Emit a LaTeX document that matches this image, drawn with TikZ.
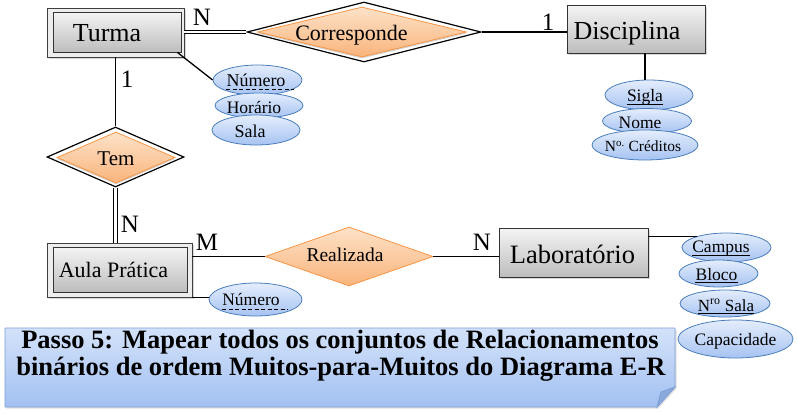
\documentclass[tikz,border=0pt]{standalone}
\usepackage{fontspec}
\setmainfont{Liberation Serif}
\usetikzlibrary{shapes.geometric,shadows,calc}
\definecolor{rTop}{HTML}{F4F4F4}
\definecolor{rBot}{HTML}{BDBDBD}
\definecolor{eTop}{HTML}{E4EDFC}
\definecolor{eBot}{HTML}{A6C3F2}
\definecolor{eBorder}{HTML}{4A7EBB}
\definecolor{dTop}{HTML}{FDE2C8}
\definecolor{dBot}{HTML}{F9B47C}
\definecolor{dBorder}{HTML}{F79646}
\definecolor{bTop}{HTML}{D3E2FA}
\definecolor{bBot}{HTML}{A2C0F1}
\definecolor{bBorder}{HTML}{7E9ED6}
\definecolor{bFold}{HTML}{8AA9DD}
\newcommand\fsz[1]{\fontsize{#1}{#1}\selectfont}
\begin{document}
\begin{tikzpicture}[x=1pt,y=-1pt,
  shad/.style={drop shadow={shadow xshift=1.5pt,shadow yshift=-1.5pt,opacity=0.3}},
  entout/.style={draw=black!75, line width=0.8pt, fill=black!7, inner sep=0, shad},
  ent/.style={draw=black!80, line width=0.8pt, top color=rTop, bottom color=rBot, inner sep=0},
  attr/.style={ellipse, draw=eBorder, line width=0.8pt, top color=eTop, bottom color=eBot, inner sep=0},
  relout/.style={diamond, draw=black, line width=1.2pt, fill=white, inner sep=0},
  relin/.style={diamond, draw=dBorder, line width=0.8pt, top color=dTop, bottom color=dBot, inner sep=0,
     drop shadow={shadow xshift=0pt,shadow yshift=-1.5pt,opacity=0.35}},
  txt/.style={inner sep=0, anchor=base},
  ln/.style={line width=1.3pt, black},
  dbl/.style={double, double distance=2.4pt, line width=0.9pt, black},
  uline/.style={line width=0.8pt, black},
  duline/.style={dashed, dash pattern=on 4pt off 2.5pt, line width=0.8pt, black},
]
\useasboundingbox (0,0) rectangle (798,413);

% caption box
\path[draw=bBorder, line width=0.8pt, top color=bTop, bottom color=bBot,
      drop shadow={shadow xshift=1.5pt,shadow yshift=-1.5pt,opacity=0.25}]
  (5,328) -- (675,328) -- (675,387) -- (657,407) -- (5,407) -- cycle;
\path[draw=bBorder, line width=0.8pt, fill=bFold] (675,387) -- (657,407) -- (661,392) -- cycle;
\node[txt, font=\bfseries\fsz{26.5}] (cap1) at (340,348) {Passo 5: Mapear todos os conjuntos de Relacionamentos};
\node[txt, font=\bfseries\fsz{26.5}] (cap2) at (341,375) {binários de ordem Muitos-para-Muitos do Diagrama E-R};

% entities
\node[entout, minimum width=137pt, minimum height=49pt] (turma) at (115.5,32.5) {};
\node[ent, minimum width=128pt, minimum height=40pt] (turmaIn) at (117,32) {};
\node[txt, font=\fsz{26}] (turmaT) at (107,41.5) {Turma};

\node[ent, shad, minimum width=138pt, minimum height=48pt] (disc) at (636,29) {};
\node[txt, font=\fsz{26}] (discT) at (627,39) {Disciplina};

\node[ent, shad, minimum width=149pt, minimum height=49pt] (lab) at (573.5,252.5) {};
\node[txt, font=\fsz{26.5}] (labT) at (572.5,263) {Laboratório};

\node[entout, minimum width=145pt, minimum height=54pt] (aula) at (119.5,270) {};
\node[ent, minimum width=134pt, minimum height=45pt] (aulaIn) at (120,269.5) {};
\node[txt, font=\fsz{22}] (aulaT) at (113.5,277) {Aula Prática};

% relationships
\node[relout, minimum width=234pt, minimum height=60pt] (corr) at (364,32) {};
\node[relin, minimum width=209pt, minimum height=50pt] (corrIn) at (362,32) {};
\node[txt, font=\fsz{22}] (corrT) at (351.5,40.5) {Corresponde};

\node[relout, minimum width=137pt, minimum height=60pt] (tem) at (115.5,157) {};
\node[relin, minimum width=118pt, minimum height=51pt] (temIn) at (116,157.5) {};
\node[txt, font=\fsz{21}] (temT) at (116,165) {Tem};

\node[diamond, draw=dBorder, line width=0.8pt, top color=dTop, bottom color=dBot, inner sep=0,
      minimum width=168pt, minimum height=59pt] (real) at (349,256.5) {};
\node[txt, font=\fsz{19.5}] (realT) at (345,261.7) {Realizada};

% attribute ellipses
\node[attr, minimum width=89pt, minimum height=30pt] (num1) at (257.5,80) {};
\node[attr, minimum width=88pt, minimum height=25pt] (hor) at (259,105.5) {};
\node[attr, minimum width=88pt, minimum height=30pt] (sala) at (256,130) {};
\node[attr, minimum width=88pt, minimum height=30pt] (sigla) at (649,95) {};
\node[attr, minimum width=89pt, minimum height=25pt] (nome) at (647,121) {};
\node[attr, minimum width=106pt, minimum height=30pt] (cred) at (645,145) {};
\node[attr, minimum width=89pt, minimum height=29pt] (campus) at (726.5,247.5) {};
\node[attr, minimum width=79pt, minimum height=27pt] (bloco) at (718.5,273.5) {};
\node[attr, minimum width=90pt, minimum height=27pt] (nsala) at (725,303.5) {};
\node[attr, minimum width=115pt, minimum height=38pt] (capac) at (735.5,339) {};
\node[attr, minimum width=93pt, minimum height=33pt] (num2) at (255.5,299.5) {};

% attribute texts
\node[txt, font=\fsz{18}] (num1T) at (256,86) {Número};
\draw[duline] ($(num1T.base west)+(0,3.5)$) -- ++(68,0);
\node[txt, font=\fsz{17.5}] (horT) at (254,113) {Horário};
\node[txt, font=\fsz{18}] (salaT) at (250,137) {Sala};
\node[txt, font=\fsz{17.5}] (siglaT) at (645,101.7) {Sigla};
\draw[uline] ($(siglaT.base west)+(0,2.5)$) -- ($(siglaT.base east)+(0,2.5)$);
\node[txt, font=\fsz{17.5}] (nomeT) at (640,128) {Nome};
\node[txt, font=\fsz{15.5}] (credT) at (643,151.7) {N\textsuperscript{o.} Créditos};
\node[txt, font=\fsz{17.5}] (campusT) at (721,252.7) {Campus};
\draw[uline] ($(campusT.base west)+(0,2.5)$) -- ($(campusT.base east)+(0,2.5)$);
\node[txt, font=\fsz{17.5}] (blocoT) at (716.5,280) {Bloco};
\draw[uline] ($(blocoT.base west)+(0,2.5)$) -- ($(blocoT.base east)+(0,2.5)$);
\node[txt, font=\fsz{17}] (nsalaT) at (726,311) {N\textsuperscript{ro} Sala};
\draw[uline] ($(nsalaT.base west)+(0,2.5)$) -- ($(nsalaT.base east)+(0,2.5)$);
\node[txt, font=\fsz{17.5}] (capacT) at (735.5,345) {Capacidade};
\node[txt, font=\fsz{17.5}] (num2T) at (251,305) {Número};
\draw[duline] ($(num2T.base west)+(0,4)$) -- ++(66,0);

% connectors
\draw[dbl] (turma.east |- corr.west) -- (corr.west);
\draw[ln] (corr.east) -- (corr.east -| disc.west);
\draw[ln] ($(sigla.north |- disc.south)+(-4,0)$) -- ($(sigla.north)+(-4,0)$);
\draw[ln] ($(turmaIn.south east)+(-4,0)$) -- (num1.west);
\draw[ln] (turma.south) -- (tem.north);
\draw[dbl] (tem.south) -- (tem.south |- aula.north);
\draw[ln] (aula.east |- real.west) -- (real.west);
\draw[ln] (real.east) -- (real.east -| lab.west);
\draw[ln] (campus.159) -- (campus.159 -| lab.east);
\draw[ln] (aula.south east) -- (aula.south east -| num2.west);

% cardinalities
\node[txt, font=\fsz{25}] (cN1) at (202,25) {N};
\node[txt, font=\fsz{25}] (c11) at (548,30) {1};
\node[txt, font=\fsz{25}] (c12) at (127,87) {1};
\node[txt, font=\fsz{25}] (cN2) at (130,232) {N};
\node[txt, font=\fsz{25}] (cM) at (207,250) {M};
\node[txt, font=\fsz{25}] (cN3) at (482,250) {N};
\end{tikzpicture}
\end{document}
